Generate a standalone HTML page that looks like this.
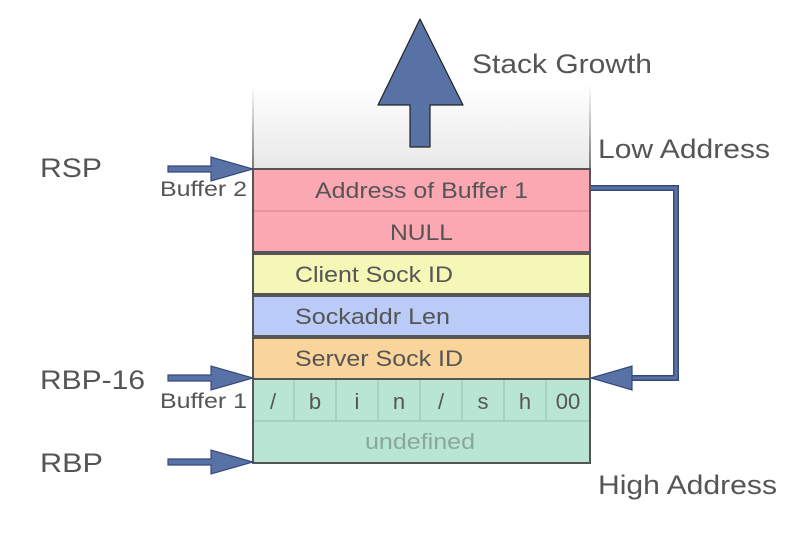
<!DOCTYPE html>
<html><head><style>
body{margin:0;background:#fff;}
svg text{font-family:"Liberation Sans",Arial,sans-serif;fill:#555;}
</style></head><body>
<svg width="800" height="547" viewBox="0 0 800 547">
<defs>
<linearGradient id="g" x1="0" y1="0" x2="0" y2="1">
<stop offset="0" stop-color="#fff"/><stop offset="1" stop-color="#e8e8e8"/>
</linearGradient>
<linearGradient id="gl" x1="0" y1="0" x2="0" y2="1">
<stop offset="0" stop-color="#fff"/><stop offset="1" stop-color="#777"/>
</linearGradient>
</defs>
<rect x="253" y="85" width="337" height="84" fill="url(#g)"/>
<rect x="252" y="85" width="2" height="84" fill="url(#gl)"/>
<rect x="589" y="85" width="2" height="84" fill="url(#gl)"/>
<polygon points="420,19 463,105 430,105 430,147 410,147 410,105 378,105" fill="#5872a6" stroke="#222" stroke-width="1.2" stroke-linejoin="round"/>
<g lengthAdjust="spacingAndGlyphs">
<text x="472" y="73" font-size="27" textLength="180" lengthAdjust="spacingAndGlyphs">Stack Growth</text>
<text x="598" y="158" font-size="27" textLength="172" lengthAdjust="spacingAndGlyphs">Low Address</text>
<text x="598" y="494" font-size="27" textLength="179" lengthAdjust="spacingAndGlyphs">High Address</text>
<text x="40" y="177" font-size="27" textLength="62" lengthAdjust="spacingAndGlyphs">RSP</text>
<text x="40" y="389" font-size="27" textLength="105" lengthAdjust="spacingAndGlyphs">RBP-16</text>
<text x="40" y="472" font-size="27" textLength="63" lengthAdjust="spacingAndGlyphs">RBP</text>
<text x="160" y="196" font-size="21" textLength="87" lengthAdjust="spacingAndGlyphs">Buffer 2</text>
<text x="160" y="408" font-size="21" textLength="87" lengthAdjust="spacingAndGlyphs">Buffer 1</text>
</g>
<rect x="253" y="169" width="337" height="83" fill="#fba8b3" stroke="#555" stroke-width="2"/>
<line x1="254" y1="211" x2="589" y2="211" stroke="#e596a0" stroke-width="2"/>
<rect x="253" y="254" width="337" height="40" fill="#f4f7b6" stroke="#555" stroke-width="2"/>
<rect x="253" y="296" width="337" height="40" fill="#b9cbf6" stroke="#555" stroke-width="2"/>
<rect x="253" y="338" width="337" height="41" fill="#f9d59b" stroke="#555" stroke-width="2"/>
<rect x="253" y="379" width="337" height="84" fill="#b9e6d2" stroke="#555" stroke-width="2"/>
<g stroke="#a6d3bf" stroke-width="2">
<line x1="254" y1="421" x2="589" y2="421"/>
<line x1="294" y1="380" x2="294" y2="420"/><line x1="336" y1="380" x2="336" y2="420"/>
<line x1="378" y1="380" x2="378" y2="420"/><line x1="420" y1="380" x2="420" y2="420"/>
<line x1="462" y1="380" x2="462" y2="420"/><line x1="504" y1="380" x2="504" y2="420"/>
<line x1="546" y1="380" x2="546" y2="420"/>
</g>
<text x="315" y="198" font-size="22" textLength="213" lengthAdjust="spacingAndGlyphs">Address of Buffer 1</text>
<text x="390" y="240" font-size="22" textLength="63" lengthAdjust="spacingAndGlyphs">NULL</text>
<text x="295" y="282" font-size="22" textLength="158" lengthAdjust="spacingAndGlyphs">Client Sock ID</text>
<text x="295" y="324" font-size="22" textLength="155" lengthAdjust="spacingAndGlyphs">Sockaddr Len</text>
<text x="295" y="366" font-size="22" textLength="168" lengthAdjust="spacingAndGlyphs">Server Sock ID</text>
<g font-size="22" text-anchor="middle">
<text x="273" y="409">/</text><text x="315" y="409">b</text><text x="357" y="409">i</text>
<text x="399" y="409">n</text><text x="441" y="409">/</text><text x="483" y="409">s</text>
<text x="525" y="409">h</text><text x="568" y="409">00</text>
</g>
<text x="365" y="449" font-size="22" textLength="110" lengthAdjust="spacingAndGlyphs" style="fill:#8aa89a">undefined</text>
<polyline points="591,188 676,188 676,378 625,378" fill="none" stroke="#34497a" stroke-width="6"/>
<polyline points="591,188 676,188 676,378 625,378" fill="none" stroke="#5872a6" stroke-width="3"/>
<polygon points="591,378 632,366 632,390" fill="#5872a6" stroke="#34497a" stroke-width="1.2"/>
<g fill="#5872a6" stroke="#34497a" stroke-width="1.2">
<polygon points="168,166 211,166 211,157 253,169 211,181 211,172 168,172"/>
<polygon points="168,375 211,375 211,366 253,378 211,390 211,381 168,381"/>
<polygon points="168,459 211,459 211,450 253,462 211,474 211,465 168,465"/>
</g>
</svg>
</body></html>
